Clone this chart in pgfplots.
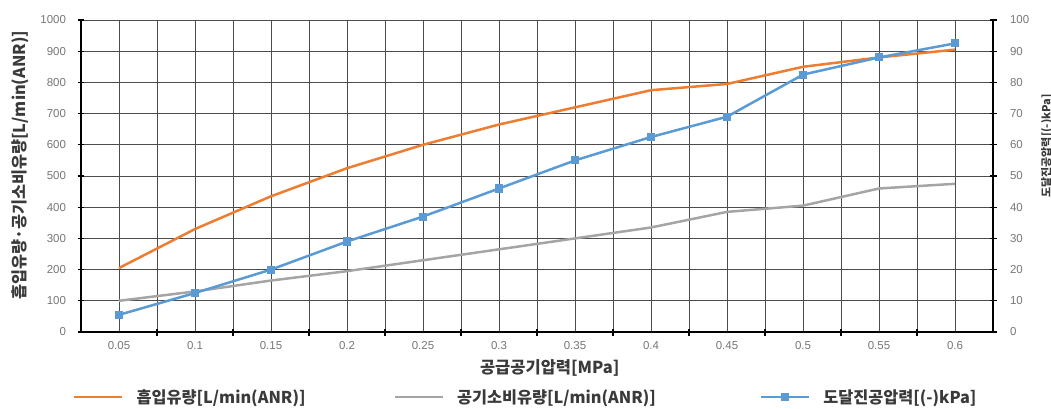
\documentclass[border=0pt]{standalone}
\usepackage{fontspec}
\setmainfont{Liberation Sans}
\newfontfamily\kr{Noto Sans CJK KR}
\usepackage{pgfplots}
\pgfplotsset{compat=1.18}
\definecolor{orangeC}{HTML}{ED7D31}
\definecolor{grayC}{HTML}{A5A5A5}
\definecolor{blueC}{HTML}{5B9BD5}
\definecolor{tickC}{HTML}{767676}
\definecolor{labC}{HTML}{3A3A3A}
\pgfplotstableread{
x orange gray blue
0 205 100 5.5
1 330 130 12.5
2 435 165 20
3 525 195 29
4 600 230 37
5 665 265 46
6 720 300 55
7 775 335 62.5
8 795 385 69
9 850 405 82.5
10 880 460 88
11 905 475 92.5
}\datatable
\begin{document}
\begin{tikzpicture}
\useasboundingbox (-81pt,-76pt) rectangle (970pt,332pt);
\begin{axis}[
  scale only axis, width=912pt, height=312pt,
  at={(0pt,0pt)}, anchor=south west,
  xmin=-0.5, xmax=11.5, ymin=0, ymax=1000,
  xtick={0,...,11},
  xticklabels={0.05,0.1,0.15,0.2,0.25,0.3,0.35,0.4,0.45,0.5,0.55,0.6},
  minor x tick num=1,
  ytick={0,100,...,1000},
  axis x line*=bottom, axis y line*=left,
  axis line style={-, black, line width=1.6pt},
  xmajorgrids, xminorgrids, ymajorgrids,
  major grid style={black!70, line width=0.9pt},
  minor grid style={black!70, line width=0.9pt},
  major x tick style={draw=none},
  minor x tick style={black, line width=1.2pt},
  ytick style={black, line width=1.2pt},
  tick align=center,
  major tick length=7pt, minor tick length=7pt,
  /pgf/number format/assume math mode=true,
  /pgf/number format/1000 sep={},
  ticklabel style={font=\fontsize{11.5}{12}\selectfont, text=tickC},
  xticklabel style={yshift=-2pt},
  yticklabel style={xshift=-8pt},
  xlabel={\kr\bfseries 공급공기압력[MPa]},
  xlabel style={at={(axis description cs:0.514,-0.115)}, anchor=center, font=\fontsize{16.5}{18}\selectfont, text=labC},
  ylabel={\kr\bfseries 흡입유량·공기소비유량[L/min(ANR)]},
  ylabel style={at={(axis description cs:-0.0669,0.535)}, rotate=0, anchor=center, font=\fontsize{16.3}{18}\selectfont, text=labC},
  legend style={at={(axis description cs:-0.00877,-0.209)}, anchor=west, draw=none, fill=none, inner sep=0pt,
    font=\kr\bfseries\fontsize{16.3}{18}\selectfont, text=labC,
    /tikz/column 2/.style={column sep=86pt},
    /tikz/column 4/.style={column sep=102pt},
    /tikz/column 1/.style={column sep=11pt},
    /tikz/column 3/.style={column sep=11pt},
    /tikz/column 5/.style={column sep=11pt}},
  legend columns=3,
  legend image code/.code={\draw[#1, mark repeat=2, mark phase=2] plot coordinates {(0pt,0pt) (24pt,0pt) (48pt,0pt)};},
]
\addplot[orangeC, line width=2.5pt] table[x=x, y=orange] {\datatable};
\addlegendentry{흡입유량[L/min(ANR)]}
\addplot[grayC, line width=2.5pt] table[x=x, y=gray] {\datatable};
\addlegendentry{공기소비유량[L/min(ANR)]}
\addlegendimage{blueC, line width=2.5pt, mark=square*, mark size=2.8pt}
\addlegendentry{도달진공압력[(-)kPa]}
\end{axis}
\begin{axis}[
  scale only axis, width=912pt, height=312pt,
  at={(0pt,0pt)}, anchor=south west,
  xmin=-0.5, xmax=11.5, ymin=0, ymax=100,
  ytick={0,10,...,100},
  axis x line=none, axis y line*=right,
  axis line style={-, black, line width=1.6pt},
  ytick style={black, line width=1.2pt},
  tick align=center, major tick length=7pt,
  /pgf/number format/assume math mode=true,
  ticklabel style={font=\fontsize{11.5}{12}\selectfont, text=tickC},
  yticklabel style={xshift=10pt},
  ylabel={\kr\bfseries 도달진공압력[(-)kPa]},
  ylabel style={at={(axis description cs:1.059,0.596)}, rotate=0, anchor=center, font=\fontsize{11}{12}\selectfont, text=labC},
]
\addplot[blueC, line width=2.5pt, mark=square*, mark size=2.8pt] table[x=x, y=blue] {\datatable};
\end{axis}
\end{tikzpicture}
\end{document}
